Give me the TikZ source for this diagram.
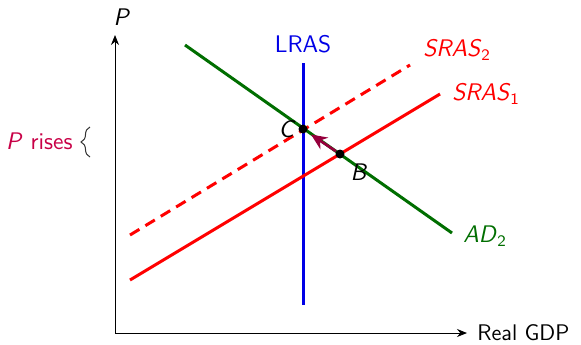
\documentclass[tikz,border=0pt]{standalone}
\usetikzlibrary{arrows.meta,decorations.pathreplacing}
\definecolor{sgreen}{RGB}{0,110,0}
\definecolor{sred}{RGB}{255,0,0}
\definecolor{sblue}{RGB}{0,0,230}
\definecolor{spurple}{RGB}{200,0,70}
\definecolor{sarrow}{RGB}{150,0,60}
\begin{document}
\begin{tikzpicture}[x=0.5pt,y=-0.5pt,font=\fontsize{12}{14}\selectfont\sffamily,
  axis/.style={line width=0.5pt,-{Stealth[length=5pt,width=4pt]}},
  curve/.style={line width=1.5pt},
  lbl/.style={inner sep=0pt},
  dot/.style={circle,fill=black,inner sep=0pt,minimum size=4.5pt}]
\useasboundingbox (0,0) rectangle (581,344);
% axes
\coordinate (O) at (115,333);
\coordinate (Ytop) at (115,35);
\coordinate (Xend) at (467,333);
\draw[axis] (O) -- (Ytop);
\draw[axis] (O) -- (Xend);
\node[lbl] (Plab) at (122,17) {\textit{P}};
\node[lbl,anchor=west,font=\fontsize{11.3}{14}\selectfont\sffamily] (Xlab) at (477,333) {Real GDP};
% LRAS
\coordinate (L1) at (303,63);
\coordinate (L2) at (303,305);
\draw[curve,sblue] (L1) -- (L2);
\node[lbl,sblue] (LRAS) at (303,44) {LRAS};
% SRAS2 dashed
\coordinate (S2a) at (130,235);
\coordinate (S2b) at (410,65);
\draw[curve,sred,dash pattern=on 5.5pt off 3.5pt] (S2a) -- (S2b);
\node[lbl,anchor=west,sred] (S2lab) at (423,50) {\textit{SRAS}\textsubscript{2}};
% SRAS1
\coordinate (S1a) at (130,280);
\coordinate (S1b) at (440,94);
\draw[curve,sred] (S1a) -- (S1b);
\node[lbl,anchor=west,sred] (S1lab) at (452,94) {\textit{SRAS}\textsubscript{1}};
% AD2
\coordinate (Da) at (185,45);
\coordinate (Db) at (452,233);
\draw[curve,sgreen] (Da) -- (Db);
\node[lbl,anchor=west,sgreen] (ADlab) at (463,236) {\textit{AD}\textsubscript{2}};
% points
\node[dot] (C) at (303,129) {};
\node[dot] (B) at (340,154) {};
\node[lbl,anchor=east] (Clab) at (296,129) {\textit{C}};
\node[lbl] (Blab) at (359,172) {\textit{B}};
\coordinate (Ctip) at (311,134.5);
\draw[sarrow,line width=1.3pt,-{Stealth[length=8pt,width=7pt]}] (B) -- (Ctip);
% P rises
\node[lbl,anchor=east,spurple] (Prise) at (73,141) {\textit{P} rises};
\coordinate (Br1) at (90,157);
\coordinate (Br2) at (90,127);
\draw[line width=0.5pt,black!80,decorate,decoration={brace,amplitude=4.5pt}] (Br1) -- (Br2);
\end{tikzpicture}
\end{document}
